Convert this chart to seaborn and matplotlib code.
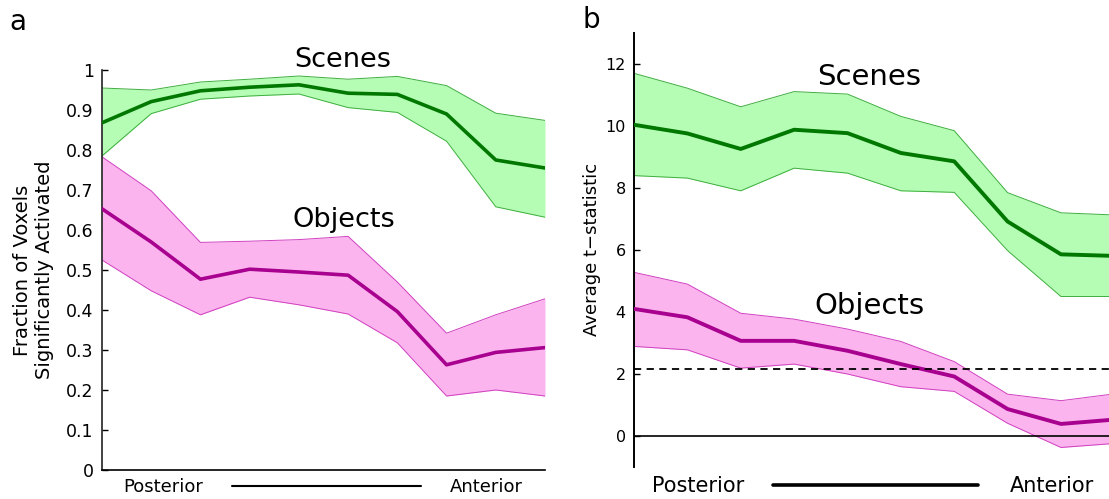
import numpy as np
import matplotlib
matplotlib.use("Agg")
import matplotlib.pyplot as plt
import seaborn as sns

# ---------------- data ----------------
positions = [0, 1, 2, 3, 4, 5, 6, 7, 8, 9]

# Panel a: fraction of voxels significantly activated
frac_scenes_mean = [0.868, 0.921, 0.948, 0.957, 0.963, 0.942, 0.939, 0.890, 0.775, 0.755]
frac_scenes_upper = [0.955, 0.950, 0.970, 0.977, 0.985, 0.977, 0.984, 0.961, 0.892, 0.874]
frac_scenes_lower = [0.785, 0.891, 0.927, 0.935, 0.940, 0.906, 0.894, 0.822, 0.658, 0.632]

frac_objects_mean = [0.653, 0.570, 0.477, 0.502, 0.495, 0.487, 0.396, 0.263, 0.294, 0.306]
frac_objects_upper = [0.783, 0.698, 0.569, 0.572, 0.576, 0.584, 0.470, 0.342, 0.388, 0.428]
frac_objects_lower = [0.525, 0.448, 0.388, 0.432, 0.413, 0.390, 0.318, 0.185, 0.200, 0.185]

# Panel b: average t-statistic
t_scenes_mean = [10.03, 9.75, 9.25, 9.87, 9.76, 9.12, 8.85, 6.91, 5.85, 5.80]
t_scenes_upper = [11.69, 11.21, 10.61, 11.10, 11.02, 10.30, 9.84, 7.84, 7.19, 7.12]
t_scenes_lower = [8.39, 8.31, 7.90, 8.63, 8.47, 7.90, 7.85, 5.97, 4.49, 4.49]

t_objects_mean = [4.09, 3.82, 3.06, 3.06, 2.74, 2.31, 1.91, 0.86, 0.38, 0.52]
t_objects_upper = [5.27, 4.89, 3.95, 3.76, 3.44, 3.04, 2.39, 1.34, 1.13, 1.35]
t_objects_lower = [2.88, 2.77, 2.18, 2.31, 1.99, 1.58, 1.43, 0.40, -0.38, -0.25]

t_threshold = 2.16

frac_ticks = [0, 0.1, 0.2, 0.3, 0.4, 0.5, 0.6, 0.7, 0.8, 0.9, 1.0]
frac_ticklabels = ["0", "0.1", "0.2", "0.3", "0.4", "0.5", "0.6", "0.7", "0.8", "0.9", "1"]
t_ticks = [0, 2, 4, 6, 8, 10, 12]

# ---------------- style ----------------
sns.set_style("ticks")
plt.rcParams["font.family"] = ["DejaVu Sans"]
plt.rcParams["text.color"] = "black"
plt.rcParams["axes.labelcolor"] = "black"
plt.rcParams["xtick.color"] = "black"
plt.rcParams["ytick.color"] = "black"
plt.rcParams["axes.edgecolor"] = "black"

GREEN_LINE = "#007800"
GREEN_FILL = "#b5fcb5"
GREEN_EDGE = "#3fae3f"
PINK_LINE = "#a8008f"
PINK_FILL = "#fbb4ee"
PINK_EDGE = "#d040c0"

fig = plt.figure(figsize=(11.09, 4.99), dpi=100)

W, H = 1109.0, 499.0
# panel a axes: x 102..545, y 70..470
axa = fig.add_axes([102 / W, 1 - 470 / H, (545 - 102) / W, (470 - 70) / H])
# panel b axes: x 634..1109 (clipped), y 32.7..466.7
axb = fig.add_axes([634 / W, 1 - 466.7 / H, (1109 - 634) / W, (466.7 - 32.7) / H])


def draw_band(ax, x, mean, lo, hi, line_c, fill_c, edge_c, lw):
    ax.fill_between(x, lo, hi, color=fill_c, lw=0, zorder=1)
    sns.lineplot(x=x, y=lo, ax=ax, color=edge_c, lw=0.7, zorder=2)
    sns.lineplot(x=x, y=hi, ax=ax, color=edge_c, lw=0.7, zorder=2)
    sns.lineplot(x=x, y=mean, ax=ax, color=line_c, lw=lw, zorder=3)


# ---- panel a ----
draw_band(axa, positions, frac_scenes_mean, frac_scenes_lower, frac_scenes_upper,
          GREEN_LINE, GREEN_FILL, GREEN_EDGE, 2.6)
draw_band(axa, positions, frac_objects_mean, frac_objects_lower, frac_objects_upper,
          PINK_LINE, PINK_FILL, PINK_EDGE, 2.6)
axa.set_xlim(0, 9)
axa.set_ylim(0, 1)
axa.set_yticks(frac_ticks)
axa.set_yticklabels(frac_ticklabels, fontsize=12.5)
axa.set_xticks([])
axa.tick_params(axis="y", direction="in", length=4, width=1, pad=6, colors="black")
for s in ["top", "right"]:
    axa.spines[s].set_visible(False)
axa.spines["left"].set_linewidth(1.2)
axa.spines["bottom"].set_linewidth(1.2)
axa.spines["left"].set_color("#222222")
axa.spines["bottom"].set_color("black")
axa.set_xlabel("")
axa.set_ylabel("")
axa.text(4.9, 1.025, "Scenes", fontsize=19.5, ha="center", va="center", clip_on=False)
axa.text(4.92, 0.625, "Objects", fontsize=19.5, ha="center", va="center")

# ---- panel b ----
draw_band(axb, positions, t_scenes_mean, t_scenes_lower, t_scenes_upper,
          GREEN_LINE, GREEN_FILL, GREEN_EDGE, 2.8)
draw_band(axb, positions, t_objects_mean, t_objects_lower, t_objects_upper,
          PINK_LINE, PINK_FILL, PINK_EDGE, 2.8)
axb.axhline(0, color="black", lw=1.2, zorder=2.5)
axb.axhline(t_threshold, color="black", lw=1.3, ls=(0, (4, 3)), zorder=4)
axb.set_xlim(0, 8.9)
axb.set_ylim(-1, 13)
axb.set_yticks(t_ticks)
axb.set_yticklabels([str(t) for t in t_ticks], fontsize=11.5)
axb.set_xticks([])
axb.tick_params(axis="y", direction="in", length=4, width=1, pad=6, colors="black")
for s in ["top", "right", "bottom"]:
    axb.spines[s].set_visible(False)
axb.spines["left"].set_linewidth(1.4)
axb.spines["left"].set_color("black")
axb.set_xlabel("")
axb.set_ylabel("")
axb.text(4.4, 11.58, "Scenes", fontsize=21, ha="center", va="center")
axb.text(4.42, 4.19, "Objects", fontsize=21, ha="center", va="center")

# ---- figure-level texts ----
fig.text(34 / W, 1 - 270 / H, "Fraction of Voxels\nSignificantly Activated",
         rotation=90, ha="center", va="center", fontsize=14, multialignment="center")
fig.text(592 / W, 1 - 249 / H, "Average t\u2212statistic",
         rotation=90, ha="center", va="center", fontsize=13)

fig.text(18 / W, 1 - 22 / H, "a", fontsize=20, ha="center", va="center")
fig.text(591 / W, 1 - 20 / H, "b", fontsize=20, ha="center", va="center")

fig.text(163 / W, 1 - 487 / H, "Posterior", fontsize=13, ha="center", va="center")
fig.text(486 / W, 1 - 487 / H, "Anterior", fontsize=13, ha="center", va="center")
fig.add_artist(plt.Line2D([232 / W, 421 / W], [1 - 486 / H, 1 - 486 / H],
                          color="black", lw=1.5, transform=fig.transFigure))

fig.text(698 / W, 1 - 486 / H, "Posterior", fontsize=15, ha="center", va="center")
fig.text(1052 / W, 1 - 486 / H, "Anterior", fontsize=15, ha="center", va="center")
fig.add_artist(plt.Line2D([773 / W, 978 / W], [1 - 485 / H, 1 - 485 / H],
                          color="black", lw=2.6, transform=fig.transFigure))

fig.savefig("out.png", dpi=100)
